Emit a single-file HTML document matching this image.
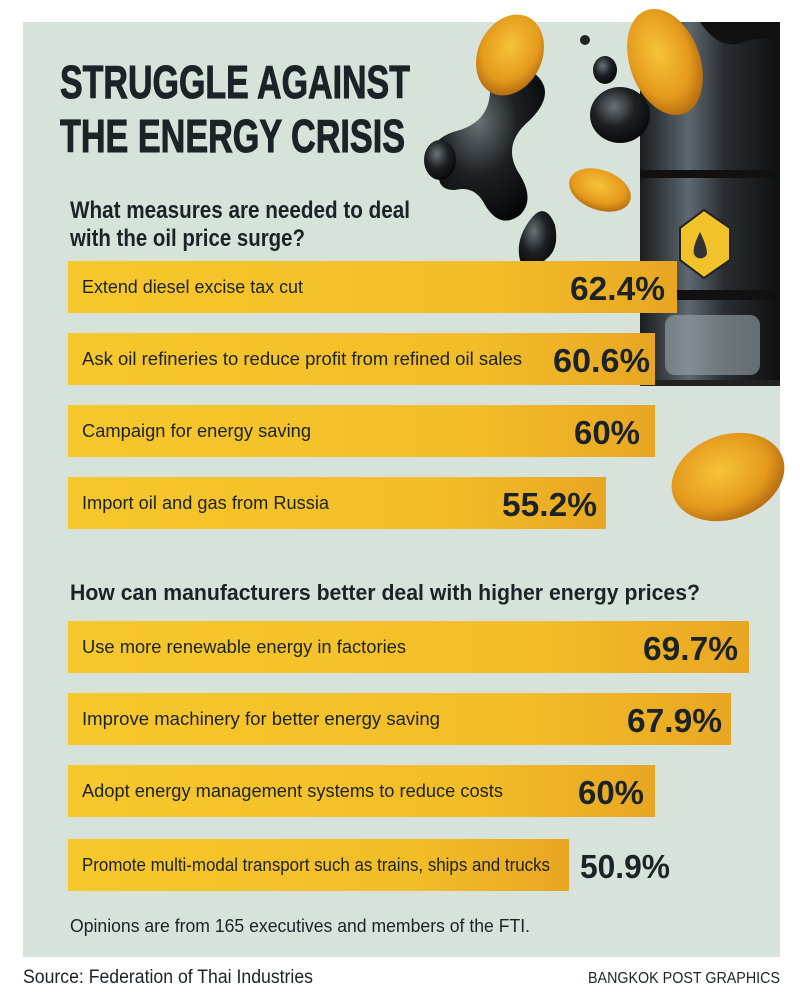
<!DOCTYPE html>
<html><head><meta charset="utf-8"><style>
html,body{margin:0;padding:0;background:#fff;}
svg{display:block;}
text{font-family:"Liberation Sans",sans-serif;fill:#1c2326;}
</style></head><body>
<svg width="800" height="1003" viewBox="0 0 800 1003" xmlns="http://www.w3.org/2000/svg">
<defs>
<linearGradient id="bar" x1="0" x2="1" y1="0" y2="0">
<stop offset="0" stop-color="#f6c82c"/><stop offset="0.7" stop-color="#f2bd28"/><stop offset="1" stop-color="#e8a623"/>
</linearGradient>
<linearGradient id="barrel" x1="0" x2="1" y1="0" y2="0">
<stop offset="0" stop-color="#1a1c1e"/><stop offset="0.35" stop-color="#5d6870"/><stop offset="0.6" stop-color="#2a2e31"/><stop offset="1" stop-color="#0e0f10"/>
</linearGradient>
<radialGradient id="coin" cx="0.45" cy="0.4" r="0.6">
<stop offset="0" stop-color="#f7c33a"/><stop offset="0.7" stop-color="#e49a1c"/><stop offset="1" stop-color="#b86f10"/>
</radialGradient>
<radialGradient id="blob" cx="0.4" cy="0.35" r="0.7">
<stop offset="0" stop-color="#6b7378"/><stop offset="0.5" stop-color="#1d2123"/><stop offset="1" stop-color="#050606"/>
</radialGradient>
</defs>
<rect x="0" y="0" width="800" height="1003" fill="#ffffff"/>
<rect x="23" y="22" width="757" height="935" fill="#d7e2db"/>

<!-- barrel -->
<rect x="640" y="22" width="140" height="364" fill="url(#barrel)"/>
<rect x="640" y="170" width="140" height="8" fill="#111"/>
<rect x="640" y="290" width="140" height="10" fill="#111"/>
<rect x="640" y="380" width="140" height="6" fill="#222"/>
<rect x="665" y="315" width="95" height="60" rx="10" fill="#9aa6ab" opacity="0.6"/>
<polygon points="704,210 730,228 730,260 704,278 680,260 680,228" fill="#f2c22a" stroke="#222" stroke-width="2"/>
<path d="M700,232 q-8,16 -6,22 a7,7 0 0 0 13,0 q0,-8 -7,-22z" fill="#333"/>
<!-- blobs -->
<path d="M440,170 q-20,-30 20,-40 q30,-10 30,-40 q10,-30 40,-20 q30,20 0,50 q-30,25 -10,55 q15,25 0,40 q-20,15 -35,-10 q-10,-20 -30,-15 q-20,0 -15,-20z" fill="url(#blob)"/>
<ellipse cx="440" cy="160" rx="16" ry="20" fill="url(#blob)"/>
<path d="M530,220 q15,-20 25,5 q5,25 -10,35 q-15,20 -25,0 q-5,-20 10,-40z" fill="url(#blob)"/>
<ellipse cx="620" cy="115" rx="30" ry="28" fill="url(#blob)"/>
<ellipse cx="605" cy="70" rx="12" ry="14" fill="url(#blob)"/>
<circle cx="585" cy="40" r="5" fill="#222"/>
<path d="M700,22 q20,30 45,20 q25,-10 35,10 v-30z" fill="#111"/>
<!-- coins -->
<ellipse cx="510" cy="55" rx="32" ry="42" fill="url(#coin)" transform="rotate(25 510 55)"/>
<ellipse cx="665" cy="62" rx="35" ry="55" fill="url(#coin)" transform="rotate(-20 665 62)"/>
<ellipse cx="600" cy="190" rx="32" ry="20" fill="url(#coin)" transform="rotate(20 600 190)"/>
<ellipse cx="728" cy="477" rx="58" ry="42" fill="url(#coin)" transform="rotate(-20 728 477)"/>

<!-- title -->
<text x="60" y="98" font-size="46" font-weight="bold" textLength="350" lengthAdjust="spacingAndGlyphs" stroke="#1c2326" stroke-width="1">STRUGGLE AGAINST</text>
<text x="60" y="152" font-size="46" font-weight="bold" textLength="345" lengthAdjust="spacingAndGlyphs" stroke="#1c2326" stroke-width="1">THE ENERGY CRISIS</text>
<text x="70" y="218" font-size="24" font-weight="bold" textLength="340" lengthAdjust="spacingAndGlyphs">What measures are needed to deal</text>
<text x="70" y="246" font-size="24" font-weight="bold" textLength="235" lengthAdjust="spacingAndGlyphs">with the oil price surge?</text>

<rect x="68" y="261" width="609" height="52" fill="url(#bar)"/>
<text x="82" y="293" font-size="18" textLength="221" lengthAdjust="spacingAndGlyphs">Extend diesel excise tax cut</text>
<text x="570" y="300" font-size="33" font-weight="bold" textLength="95" lengthAdjust="spacingAndGlyphs">62.4%</text>

<rect x="68" y="333" width="587" height="52" fill="url(#bar)"/>
<text x="82" y="365" font-size="18" textLength="440" lengthAdjust="spacingAndGlyphs">Ask oil refineries to reduce profit from refined oil sales</text>
<text x="553" y="372" font-size="33" font-weight="bold" textLength="97" lengthAdjust="spacingAndGlyphs">60.6%</text>

<rect x="68" y="405" width="587" height="52" fill="url(#bar)"/>
<text x="82" y="437" font-size="18" textLength="229" lengthAdjust="spacingAndGlyphs">Campaign for energy saving</text>
<text x="574" y="444" font-size="33" font-weight="bold" textLength="66" lengthAdjust="spacingAndGlyphs">60%</text>

<rect x="68" y="477" width="538" height="52" fill="url(#bar)"/>
<text x="82" y="509" font-size="18" textLength="247" lengthAdjust="spacingAndGlyphs">Import oil and gas from Russia</text>
<text x="502" y="516" font-size="33" font-weight="bold" textLength="95" lengthAdjust="spacingAndGlyphs">55.2%</text>

<text x="70" y="600" font-size="22" font-weight="bold" textLength="630" lengthAdjust="spacingAndGlyphs">How can manufacturers better deal with higher energy prices?</text>

<rect x="68" y="621" width="681" height="52" fill="url(#bar)"/>
<text x="82" y="653" font-size="18" textLength="324" lengthAdjust="spacingAndGlyphs">Use more renewable energy in factories</text>
<text x="643" y="660" font-size="33" font-weight="bold" textLength="95" lengthAdjust="spacingAndGlyphs">69.7%</text>

<rect x="68" y="693" width="663" height="52" fill="url(#bar)"/>
<text x="82" y="725" font-size="18" textLength="358" lengthAdjust="spacingAndGlyphs">Improve machinery for better energy saving</text>
<text x="627" y="732" font-size="33" font-weight="bold" textLength="95" lengthAdjust="spacingAndGlyphs">67.9%</text>

<rect x="68" y="765" width="587" height="52" fill="url(#bar)"/>
<text x="82" y="797" font-size="18" textLength="421" lengthAdjust="spacingAndGlyphs">Adopt energy management systems to reduce costs</text>
<text x="578" y="804" font-size="33" font-weight="bold" textLength="66" lengthAdjust="spacingAndGlyphs">60%</text>

<rect x="68" y="839" width="501" height="52" fill="url(#bar)"/>
<text x="82" y="871" font-size="18" textLength="468" lengthAdjust="spacingAndGlyphs">Promote multi-modal transport such as trains, ships and trucks</text>
<text x="580" y="878" font-size="33" font-weight="bold" textLength="90" lengthAdjust="spacingAndGlyphs">50.9%</text>

<text x="70" y="932" font-size="18" textLength="460" lengthAdjust="spacingAndGlyphs" fill="#2a3033">Opinions are from 165 executives and members of the FTI.</text>

<text x="23" y="983" font-size="19" textLength="290" lengthAdjust="spacingAndGlyphs" fill="#2a3033">Source: Federation of Thai Industries</text>
<text x="588" y="983" font-size="16" textLength="192" lengthAdjust="spacingAndGlyphs" fill="#2a3033">BANGKOK POST GRAPHICS</text>
</svg>
</body></html>
